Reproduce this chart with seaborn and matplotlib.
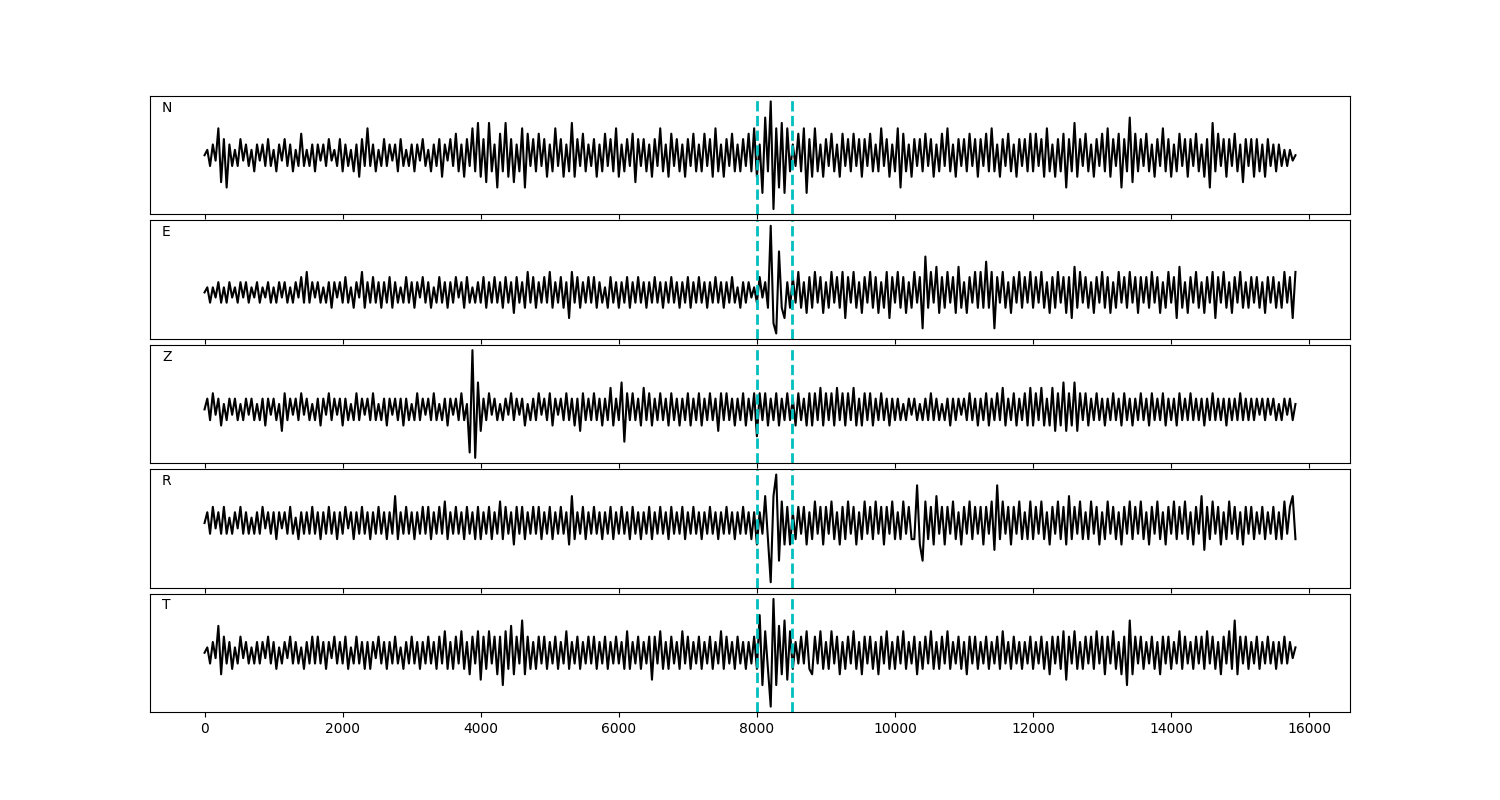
import numpy as np
import pandas as pd
import matplotlib
matplotlib.use('Agg')
import matplotlib.pyplot as plt
import seaborn as sns

# sample spacing of the read-off extrema
step = 40
components = ['N', 'E', 'Z', 'R', 'T']
picks = [8000, 8512]

n_vals = [
    0, 1, -2, 2, -1, 5, -5, 3, -6, 2, -2, 1, -2, 3, -1, 2, -2, 1, -3, 2,
    -1, 2, -2, 3, -2, 1, -3, 2, -1, 3, -2, 2, -3, 1, -2, 4, -2, 1, -2, 2,
    -3, 2, -1, 2, -2, 3, -1, 1, -2, 3, -3, 2, -2, 1, -3, 2, -4, 3, -2, 5,
    -2, 2, -3, 1, -2, 3, -2, 2, -1, 2, -3, 3, -2, 1, -2, 2, -3, 2, -1, 3,
    -2, 1, -3, 2, -2, 3, -4, 2, -1, 3, -2, 4, -3, 2, -4, 3, -2, 5, -3, 6,
    -4, 3, -5, 6, -3, 2, -6, 4, -3, 6, -4, 3, -5, 2, -3, 5, -6, 4, -2, 3,
    -3, 4, -2, 3, -4, 2, -3, 5, -2, 3, -4, 2, -3, 6, -4, 3, -2, 4, -3, 2,
    -2, 3, -4, 2, -3, 4, -2, 3, -3, 5, -4, 2, -3, 3, -2, 4, -5, 3, -2, 3,
    -3, 2, -4, 3, -2, 5, -3, 2, -4, 4, -2, 3, -3, 2, -4, 3, -2, 4, -3, 2,
    -3, 4, -2, 3, -4, 5, -3, 2, -4, 3, -2, 4, -3, 2, -3, 3, -2, 4, -3, 5,
    -4, 2, -7, 7, -3, 10, -10, 5, -6, 6, -7, 5, -3, 2, -2, 4, -3, 5, -7, 3,
    -4, 5, -3, 2, -4, 3, -2, 4, -3, 2, -4, 4, -2, 3, -3, 4, -2, 3, -4, 3,
    -2, 4, -3, 2, -3, 5, -2, 3, -4, 2, -3, 5, -6, 4, -3, 2, -4, 3, -2, 3,
    -3, 4, -2, 3, -4, 2, -3, 4, -2, 5, -3, 2, -4, 3, -2, 3, -3, 4, -2, 3,
    -4, 3, -2, 4, -3, 5, -3, 2, -4, 3, -2, 4, -3, 2, -4, 3, -2, 3, -3, 4,
    -3, 4, -2, 3, -4, 5, -3, 2, -4, 3, -3, 4, -6, 3, -3, 6, -4, 3, -2, 4,
    -3, 2, -4, 3, -2, 4, -3, 5, -4, 3, -2, 4, -6, 3, -3, 7, -5, 4, -3, 3,
    -2, 4, -3, 2, -4, 3, -2, 5, -3, 3, -4, 2, -3, 4, -2, 3, -4, 3, -2, 4,
    -3, 2, -4, 3, -6, 6, -3, 4, -2, 3, -4, 3, -2, 4, -3, 2, -5, 3, -2, 3,
    -4, 3, -3, 2, -4, 3, -2, 2, -3, 2, -2, 1, -2, 1, -1, 0,
]

e_vals = [
    0, 1, -2, 1, -1, 2, -2, 1, -2, 2, -1, 1, -2, 2, -1, 2, -2, 1, -1, 2,
    -2, 1, -1, 2, -2, 1, -2, 2, -1, 2, -2, 1, -2, 2, -1, 3, -2, 4, -2, 2,
    -1, 2, -2, 1, -2, 2, -3, 2, -1, 2, -2, 3, -2, 1, -3, 2, -1, 4, -3, 2,
    -2, 3, -2, 2, -3, 2, -2, 3, -3, 2, -2, 1, -2, 3, -2, 2, -3, 2, -1, 3,
    -2, 2, -3, 1, -2, 3, -2, 2, -3, 2, -2, 3, -1, 2, -3, 3, -2, 1, -2, 2,
    -2, 3, -3, 2, -2, 3, -2, 2, -3, 3, -2, 2, -4, 3, -2, 2, -3, 4, -2, 3,
    -3, 2, -2, 3, -2, 4, -3, 2, -2, 3, -3, 2, -5, 4, -2, 3, -3, 2, -2, 3,
    -2, 3, -3, 2, -2, 1, -3, 3, -2, 2, -3, 2, -2, 3, -3, 2, -2, 3, -2, 2,
    -3, 2, -2, 3, -2, 2, -3, 2, -2, 3, -2, 2, -3, 2, -2, 3, -3, 2, -2, 3,
    -2, 2, -3, 2, -2, 3, -2, 2, -3, 2, -2, 3, -2, 1, -3, 2, -2, 2, -1, 1,
    -2, 3, -1, 2, -3, 13, -6, -8, 8, -3, -5, 2, -3, 3, -2, 4, -3, 2, -4, 3,
    -3, 4, -2, 3, -4, 2, -3, 4, -2, 3, -3, 4, -5, 3, -2, 4, -3, 2, -4, 3,
    -2, 4, -3, 3, -4, 2, -3, 4, -5, 3, -2, 4, -3, 3, -4, 2, -3, 4, -2, 3,
    -7, 7, -3, 4, -2, 5, -4, 3, -3, 4, -2, 3, -4, 5, -3, 2, -4, 3, -2, 4,
    -3, 4, -3, 6, -3, 4, -7, 3, -2, 4, -3, 2, -4, 3, -2, 4, -3, 3, -2, 4,
    -3, 3, -2, 4, -3, 2, -4, 3, -3, 4, -2, 3, -4, 3, -5, 5, -3, 4, -2, 3,
    -3, 2, -4, 3, -2, 4, -3, 3, -4, 2, -3, 4, -2, 3, -3, 4, -2, 3, -4, 3,
    -2, 3, -3, 4, -2, 3, -4, 2, -3, 4, -2, 3, -5, 5, -3, 2, -4, 3, -2, 4,
    -3, 2, -4, 3, -2, 4, -5, 3, -2, 4, -3, 2, -4, 3, -2, 4, -3, 2, -3, 3,
    -2, 3, -3, 2, -4, 3, -2, 3, -3, 2, -3, 4, -2, 3, -5, 4,
]

z_vals = [
    0, 2, -2, 3, -1, 2, -3, 1, -2, 2, -1, 2, -2, 1, -2, 2, -1, 2, -2, 1,
    -2, 2, -3, 2, -1, 2, -2, 1, -4, 3, -2, 2, -1, 2, -2, 3, -1, 2, -2, 1,
    -2, 2, -3, 2, -1, 3, -2, 2, -1, 2, -3, 2, -2, 1, -2, 3, -2, 2, -1, 2,
    -2, 3, -2, 1, -2, 2, -3, 2, -1, 2, -2, 2, -3, 2, -2, 1, -2, 3, -2, 2,
    -1, 2, -2, 3, -2, 1, -2, 2, -3, 2, -1, 2, -2, 3, -2, 1, -8, 11, -9, 5,
    -4, 2, -2, 3, -1, 2, -2, 1, -2, 2, -1, 3, -2, 2, -1, 2, -3, 1, -2, 2,
    -2, 3, -1, 2, -2, 3, -3, 2, -1, 2, -2, 3, -2, 2, -3, 2, -4, 3, -2, 2,
    -2, 3, -2, 2, -3, 2, -2, 4, -3, 2, -2, 5, -6, 3, -2, 3, -2, 2, -3, 4,
    -2, 3, -3, 2, -2, 3, -2, 2, -3, 3, -2, 2, -3, 2, -2, 3, -3, 2, -2, 3,
    -3, 2, -2, 3, -2, 2, -4, 3, -2, 3, -2, 2, -3, 2, -2, 3, -3, 2, -2, 3,
    -5, 3, -2, 3, -3, 2, -2, 3, -3, 2, -2, 3, -2, 2, -3, 3, -2, 2, -3, 3,
    -3, 3, -2, 4, -3, 3, -2, 3, -3, 4, -2, 3, -3, 3, -2, 4, -3, 2, -3, 3,
    -2, 3, -3, 2, -2, 3, -2, 2, -3, 2, -2, 2, -2, 1, -2, 2, -1, 2, -2, 1,
    -2, 2, -2, 3, -2, 2, -2, 1, -2, 2, -3, 2, -2, 2, -1, 2, -2, 3, -2, 2,
    -3, 2, -2, 3, -3, 2, -2, 3, -2, 4, -3, 2, -2, 3, -3, 2, -2, 3, -3, 4,
    -3, 3, -2, 4, -3, 2, -3, 4, -4, 3, -3, 5, -4, 3, -3, 5, -4, 3, -2, 3,
    -3, 2, -2, 3, -2, 2, -3, 2, -2, 3, -2, 2, -3, 3, -2, 2, -3, 2, -2, 3,
    -2, 2, -3, 3, -2, 2, -2, 3, -3, 2, -2, 2, -3, 3, -2, 2, -2, 3, -2, 2,
    -2, 2, -3, 2, -2, 3, -2, 2, -2, 2, -3, 2, -2, 2, -2, 3, -2, 2, -2, 2,
    -2, 2, -1, 2, -2, 2, -1, 2, -2, 1, -2, 2, -1, 2, -2, 1,
]

r_vals = [
    0, 2, -2, 3, -1, 2, -2, 3, -2, 1, -2, 2, -1, 3, -2, 2, -2, 1, -2, 2,
    -2, 3, -1, 2, -2, 2, -3, 2, -1, 2, -2, 3, -2, 1, -3, 2, -2, 2, -2, 3,
    -2, 2, -3, 2, -2, 3, -2, 2, -3, 2, -2, 3, -1, 2, -3, 2, -2, 3, -2, 2,
    -3, 2, -2, 3, -2, 2, -3, 2, -2, 5, -3, 2, -2, 3, -2, 2, -3, 2, -2, 3,
    -2, 3, -3, 2, -2, 3, -2, 4, -3, 2, -2, 3, -2, 2, -3, 3, -2, 2, -3, 3,
    -3, 2, -2, 3, -3, 2, -2, 4, -3, 3, -2, 2, -4, 3, -2, 3, -3, 2, -2, 3,
    -2, 3, -3, 2, -2, 3, -3, 2, -2, 3, -2, 2, -4, 5, -3, 2, -2, 3, -3, 2,
    -2, 3, -2, 2, -3, 2, -2, 3, -3, 2, -2, 3, -2, 2, -3, 3, -2, 2, -3, 2,
    -2, 3, -3, 2, -2, 3, -2, 2, -3, 3, -2, 2, -2, 3, -3, 2, -2, 3, -2, 2,
    -3, 2, -2, 3, -2, 2, -3, 2, -2, 3, -2, 2, -3, 2, -2, 3, -2, 2, -3, 2,
    -4, 2, -2, 5, -3, -11, 5, 9, -7, 4, -4, 3, -4, 2, -3, 3, -2, 3, -4, 2,
    -3, 4, -2, 3, -4, 3, -2, 4, -3, 2, -4, 3, -3, 4, -2, 3, -4, 2, -3, 4,
    -2, 3, -3, 4, -2, 3, -4, 3, -2, 4, -3, 2, -3, 4, -2, 3, -3, -3, 7, -4,
    -7, 4, -3, 3, -4, 5, -2, 3, -4, 3, -2, 4, -3, 2, -4, 3, -2, 4, -3, 3,
    -2, 3, -4, 3, -2, 4, -5, 7, -3, 4, -2, 3, -4, 3, -2, 4, -3, 2, -3, 4,
    -3, 3, -2, 4, -3, 2, -4, 3, -2, 4, -3, 3, -4, 5, -3, 3, -2, 4, -3, 2,
    -3, 4, -2, 3, -4, 2, -3, 4, -2, 3, -3, 2, -4, 3, -2, 4, -3, 3, -2, 4,
    -3, 2, -4, 3, -2, 4, -3, 2, -4, 3, -2, 4, -3, 3, -2, 4, -3, 2, -4, 3,
    -2, 5, -5, 3, -3, 4, -2, 3, -4, 2, -3, 4, -2, 3, -3, 2, -4, 3, -2, 3,
    -3, 2, -2, 3, -3, 2, -2, 3, -3, 2, -3, 4, -2, 3, 5, -3,
]

t_vals = [
    0, 1, -2, 2, -1, 5, -4, 3, -2, 2, -3, 1, -2, 3, -1, 2, -2, 1, -2, 2,
    -2, 2, -1, 3, -2, 2, -3, 1, -2, 2, -1, 3, -2, 2, -2, 1, -3, 2, -2, 3,
    -2, 3, -2, 2, -3, 2, -1, 3, -2, 2, -2, 3, -3, 1, -2, 3, -2, 2, -3, 2,
    -3, 2, -1, 3, -2, 2, -3, 2, -2, 3, -2, 1, -3, 2, -2, 3, -2, 2, -3, 2,
    -2, 3, -2, 2, -3, 3, -2, 4, -3, 2, -3, 3, -2, 4, -3, 2, -4, 3, -2, 4,
    -5, 3, -3, 4, -2, 3, -4, 3, -6, 4, -3, 5, -4, 3, -2, 6, -4, 3, -3, 2,
    -3, 3, -2, 3, -3, 2, -2, 3, -3, 2, -2, 4, -3, 2, -2, 3, -3, 2, -2, 3,
    -2, 3, -3, 2, -2, 3, -3, 2, -2, 3, -2, 2, -3, 4, -3, 2, -2, 3, -3, 2,
    -2, 3, -5, 3, -2, 4, -3, 2, -3, 3, -2, 2, -3, 4, -2, 3, -3, 2, -2, 3,
    -3, 2, -2, 3, -3, 2, -2, 4, -3, 3, -2, 2, -3, 3, -2, 2, -3, 2, -2, 3,
    -3, 7, -6, 4, -3, -10, 10, -6, 5, -4, 6, -5, 4, -3, 2, -2, 3, -2, 4, -3,
    -4, 3, -2, 4, -3, 2, -3, 4, -2, 3, -4, 2, -3, 3, -2, 4, -3, 2, -4, 3,
    -2, 3, -3, 2, -4, 3, -2, 4, -3, 2, -3, 3, -2, 4, -3, 2, -2, 3, -4, 2,
    -3, 3, -2, 4, -3, 2, -3, 3, -2, 4, -3, 2, -2, 3, -3, 2, -4, 3, -2, 3,
    -3, 2, -2, 3, -3, 2, -2, 3, -3, 4, -2, 2, -3, 3, -2, 2, -3, 2, -2, 3,
    -3, 2, -2, 3, -3, 2, -4, 3, -2, 3, -3, 4, -5, 3, -2, 4, -3, 2, -3, 3,
    -2, 3, -3, 4, -2, 3, -4, 3, -2, 4, -3, 2, -4, 3, -6, 6, -4, 3, -2, 3,
    -3, 2, -2, 3, -3, 2, -4, 3, -2, 3, -3, 2, -2, 4, -3, 3, -2, 2, -3, 3,
    -2, 3, -3, 4, -2, 3, -3, 2, -4, 3, -2, 4, -3, 6, -4, 3, -2, 3, -3, 2,
    -2, 3, -3, 2, -2, 3, -2, 2, -3, 2, -2, 3, -2, 2, -1, 1,
]

traces = [n_vals, e_vals, z_vals, r_vals, t_vals]

fig, axes = plt.subplots(5, 1, figsize=(15, 8), sharex=True)
plt.subplots_adjust(left=0.1, right=0.9, top=0.88, bottom=0.11, hspace=0.05)

for ax, comp, vals in zip(axes, components, traces):
    df = pd.DataFrame({'sample': np.arange(len(vals)) * step, 'amp': vals})
    sns.lineplot(data=df, x='sample', y='amp', ax=ax, color='k', linewidth=1.5,
                 estimator=None)
    for p in picks:
        ax.axvline(p, color='c', linestyle='--', linewidth=2)
    ax.set_yticks([])
    ax.set_ylabel('')
    ax.set_xlabel('')
    ax.text(0.01, 0.9, comp, transform=ax.transAxes, va='center', fontsize=10)

plt.savefig('out.png', dpi=100)
